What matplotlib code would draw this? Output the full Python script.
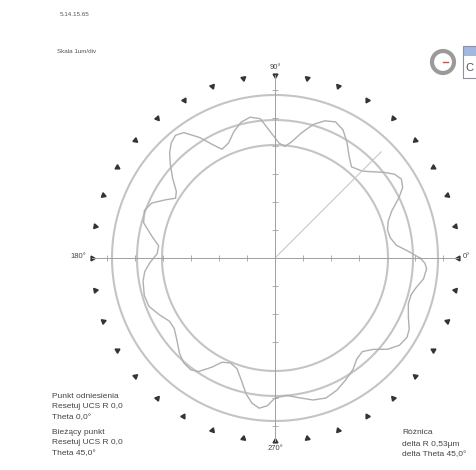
import numpy as np
import matplotlib
matplotlib.use("Agg")
import matplotlib.pyplot as plt
from matplotlib.patches import Circle, Rectangle

plt.rcParams['font.family'] = ['Liberation Sans', 'DejaVu Sans']

# roundness profile (angle in degrees, radius in plot units)
profile_theta = [0, 3, 6, 10, 14, 18, 22, 26, 29, 32, 35, 38, 42, 45, 50, 54, 58, 62, 66, 70,
                 74, 78, 82, 85, 88, 92, 96, 100, 104, 108, 112, 116, 119, 122, 126, 129, 132,
                 135, 138, 142, 146, 149, 152, 156, 160, 165, 170, 174, 178, 182, 186, 190,
                 196, 201, 206, 211, 215, 220, 225, 229, 233, 236, 240, 243, 247, 251, 255,
                 258, 261, 264, 267, 270, 275, 280, 285, 290, 295, 300, 305, 309, 313, 317,
                 321, 325, 329, 332, 336, 341, 345, 348, 352, 356, 358, 360]
profile_r = [145, 133, 122, 117, 116, 119, 126, 138, 146, 149, 146, 139, 129, 123, 119, 126, 136, 145, 149, 146,
             139, 128, 117, 112, 115, 126, 140, 143, 140, 133, 124, 121, 130, 142, 155, 158, 155,
             149, 141, 130, 119, 116, 124, 135, 139, 136, 125, 117, 118, 125, 131, 134,
             136, 135, 129, 123, 123, 128, 135, 139, 140, 137, 126, 117, 114, 117, 128,
             139, 147, 151, 148, 140, 138, 142, 147, 149, 146, 141, 136, 130, 128, 134,
             145, 152, 154, 152, 146, 141, 141, 144, 150, 152, 150, 145]

ref_circles = [113, 138, 163]
marker_angles = list(range(0, 360, 10))
marker_r = 183
angle_labels = {0: "0°", 90: "90°", 180: "180°", 270: "270°"}
cursor_theta = 45
cursor_r = 150

header = ["5.14.15.65", "Skala 1um/div"]
left_info = ["Punkt odniesienia", "Resetuj UCS R 0,0", "Theta 0,0°"]
left_info2 = ["Bieżący punkt", "Resetuj UCS R 0,0", "Theta 45,0°"]
right_info = ["Różnica", "delta R 0,53µm", "delta Theta 45,0°"]

W, H = 477, 470
cx, cy = 275, 258
fig = plt.figure(figsize=(W / 100, H / 100), dpi=100)
ax = fig.add_axes([0, 0, 1, 1])
ax.set_xlim(-cx, W - cx)
ax.set_ylim(-(H - cy), cy)
ax.set_aspect('equal')

# axes through centre with small ticks
for s in ['top', 'right']:
    ax.spines[s].set_visible(False)
ax.spines['left'].set_position('zero')
ax.spines['bottom'].set_position('zero')
ax.spines['left'].set_bounds(-marker_r, marker_r)
ax.spines['bottom'].set_bounds(-marker_r, marker_r)
for s in ['left', 'bottom']:
    ax.spines[s].set_color('#a0a0a0')
    ax.spines[s].set_linewidth(0.7)
ticks = np.arange(-6, 7) * 28
ticks = ticks[ticks != 0]
ax.set_xticks(ticks)
ax.set_yticks(ticks)
ax.set_xticklabels([])
ax.set_yticklabels([])
ax.tick_params(direction='inout', length=5, width=0.6, color='#a0a0a0')

t = np.linspace(0, 2 * np.pi, 400)
for r in ref_circles:
    ax.plot(r * np.cos(t), r * np.sin(t), color='#c4c4c4', lw=1.5)

th = np.radians(profile_theta)
pr = np.array(profile_r)
ax.plot(pr * np.cos(th), pr * np.sin(th), color='#b0b0b0', lw=1.0)

ca = np.radians(cursor_theta)
ax.plot([0, cursor_r * np.cos(ca)], [0, cursor_r * np.sin(ca)], color='#c8c8c8', lw=0.8)

for a in marker_angles:
    ar = np.radians(a)
    ax.plot(marker_r * np.cos(ar), marker_r * np.sin(ar), marker=(3, 0, a + 90),
            color='#333333', markersize=4, ls='none')

ax.text(0, marker_r + 4, angle_labels[90], ha='center', va='bottom', fontsize=5.5, color='#444444')
ax.text(0, -marker_r - 4, angle_labels[270], ha='center', va='top', fontsize=5.5, color='#444444')
ax.text(-marker_r - 6, 2, angle_labels[180], ha='right', va='center', fontsize=5.5, color='#444444')
ax.text(marker_r + 5, 2, angle_labels[0], ha='left', va='center', fontsize=5.5, color='#444444')

# header texts
fig.text(60 / W, 1 - 15 / H, header[0], fontsize=4.5, color='#555555', va='center')
fig.text(57 / W, 1 - 52 / H, header[1], fontsize=4.5, color='#555555', va='center')

def block(x, y0, lines):
    for i, s in enumerate(lines):
        fig.text(x / W, 1 - (y0 + i * 11) / H, s, fontsize=6, color='#444444', va='center')

block(52, 396, left_info)
block(52, 432, left_info2)
block(402, 433, right_info)

# logo
ax.add_patch(Circle((443 - cx, cy - 62), 11, fill=False, ec='#9a9a9a', lw=3))
ax.plot([443 - cx, 448 - cx], [cy - 62, cy - 62], color='#d05050', lw=1.0)
ax.add_patch(Rectangle((463 - cx, cy - 78), 20, 32, fill=False, ec='#9090a0', lw=0.8))
ax.add_patch(Rectangle((464 - cx, cy - 56), 20, 9, color='#6688cc', alpha=0.6, lw=0))
fig.text(465 / W, 1 - 68 / H, "C", fontsize=8, color='#555555', va='center')

fig.savefig('out.png', dpi=100, facecolor='white')
